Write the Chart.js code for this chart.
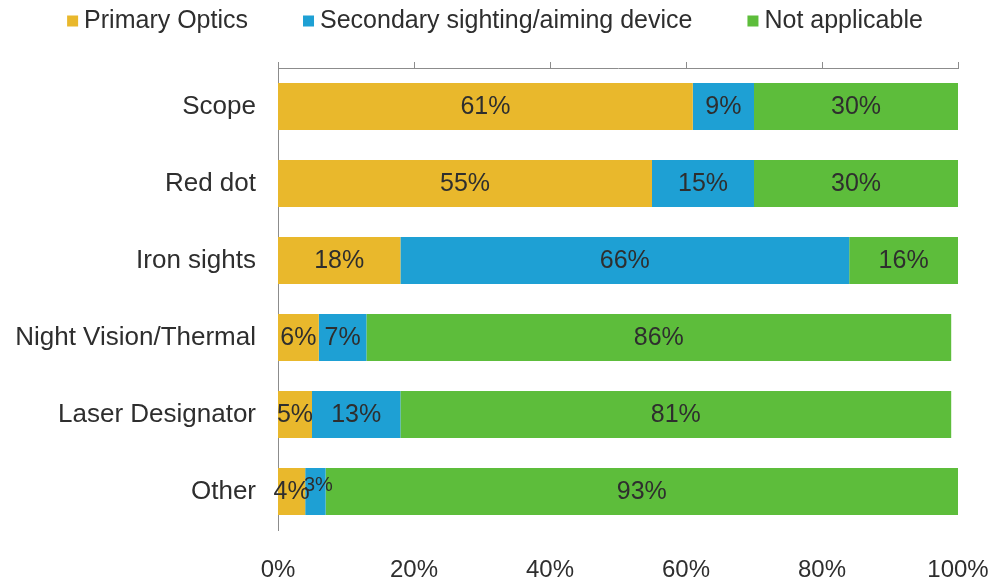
<!DOCTYPE html>
<html>
<head>
<meta charset="utf-8">
<script src="https://cdn.jsdelivr.net/npm/chart.js@4"></script>
<style>
  html, body { margin: 0; padding: 0; background: #fff; }
  #wrap { width: 994px; height: 581px; }
</style>
</head>
<body>
<div id="wrap"><canvas id="opticsChart" width="994" height="581"></canvas></div>
<script>
    var categories = ['Scope', 'Red dot', 'Iron sights', 'Night Vision/Thermal', 'Laser Designator', 'Other'];
    var primaryOptics = [61, 55, 18, 6, 5, 4];
    var secondaryDevice = [9, 15, 66, 7, 13, 3];
    var notApplicable = [30, 30, 16, 86, 81, 93];
    var tickLabels = ['0%', '20%', '40%', '60%', '80%', '100%'];

    var fontFamily = '"Liberation Sans", Arial, sans-serif';
    var textColor = '#2e2e2e';
    var axisColor = '#8c8c8c';

    // percent labels in the middle of each segment
    var segmentLabels = {
        id: 'segmentLabels',
        afterDatasetsDraw: function (chart) {
            var ctx = chart.ctx;
            ctx.save();
            ctx.textAlign = 'center';
            ctx.textBaseline = 'middle';
            ctx.fillStyle = textColor;
            chart.data.datasets.forEach(function (ds, i) {
                chart.getDatasetMeta(i).data.forEach(function (bar, j) {
                    var x = (bar.x + bar.base) / 2;
                    var y = bar.y + 1;
                    var size = 25;
                    // the tiny 3% slice in "Other" sits a little higher
                    if (ds.data[j] <= 3) { y -= 7; x += 3; size = 20; }
                    ctx.font = size + 'px ' + fontFamily;
                    ctx.fillText(ds.data[j] + '%', x, y);
                });
            });
            ctx.restore();
        }
    };

    // legend row across the top: small square, then the series name
    var topLegend = {
        id: 'topLegend',
        afterDraw: function (chart) {
            var ctx = chart.ctx;
            var box = 11, gap = 6, spacing = 55, y = 21;
            ctx.save();
            ctx.font = '25px ' + fontFamily;
            ctx.textBaseline = 'middle';
            var items = chart.data.datasets.map(function (ds) {
                return { text: ds.label, color: ds.backgroundColor, w: box + gap + ctx.measureText(ds.label).width };
            });
            var total = items.reduce(function (s, it) { return s + it.w; }, 0) + spacing * (items.length - 1);
            var x = 495 - total / 2;
            items.forEach(function (it) {
                ctx.fillStyle = it.color;
                ctx.fillRect(x, y - box / 2, box, box);
                ctx.fillStyle = textColor;
                ctx.fillText(it.text, x + box + gap, y);
                x += it.w + spacing;
            });
            ctx.restore();
        }
    };

    var ctx = document.getElementById('opticsChart').getContext('2d');
    var opticsChart = new Chart(ctx, {
        type: 'bar',
        data: {
            labels: categories,
            datasets: [{
                label: 'Primary Optics',
                data: primaryOptics,
                backgroundColor: '#E9B82C'
            }, {
                label: 'Secondary sighting/aiming device',
                data: secondaryDevice,
                backgroundColor: '#1EA0D4'
            }, {
                label: 'Not applicable',
                data: notApplicable,
                backgroundColor: '#5DBD3B'
            }]
        },
        plugins: [segmentLabels, topLegend],
        options: {
            indexAxis: 'y',
            responsive: false,
            animation: false,
            categoryPercentage: 1,
            barPercentage: 0.61,
            layout: {
                padding: { left: 0, right: 36, top: 62, bottom: 0 }
            },
            plugins: {
                tooltip: { enabled: false },
                legend: { display: false }
            },
            scales: {
                x: {
                    stacked: true,
                    min: 0,
                    max: 100,
                    position: 'bottom',
                    grid: { display: false },
                    border: { display: false },
                    ticks: {
                        stepSize: 20,
                        padding: 18,
                        color: textColor,
                        font: { family: fontFamily, size: 24 },
                        callback: function (value) { return tickLabels[value / 20]; }
                    },
                    afterFit: function (scale) {
                        scale.height = 51;
                        scale.paddingLeft = 0;
                        scale.paddingRight = 0;
                    }
                },
                xTop: {
                    type: 'linear',
                    min: 0,
                    max: 100,
                    position: 'top',
                    grid: { drawOnChartArea: false, drawTicks: true, tickLength: 6, color: axisColor },
                    border: { display: true, color: axisColor },
                    ticks: { display: false, stepSize: 20 }
                },
                y: {
                    stacked: true,
                    grid: { display: false },
                    border: { display: true, color: axisColor },
                    ticks: {
                        padding: 14,
                        color: textColor,
                        font: { family: fontFamily, size: 26 }
                    },
                    afterFit: function (scale) { scale.width = 278; }
                }
            }
        }
    });
</script>
</body>
</html>
